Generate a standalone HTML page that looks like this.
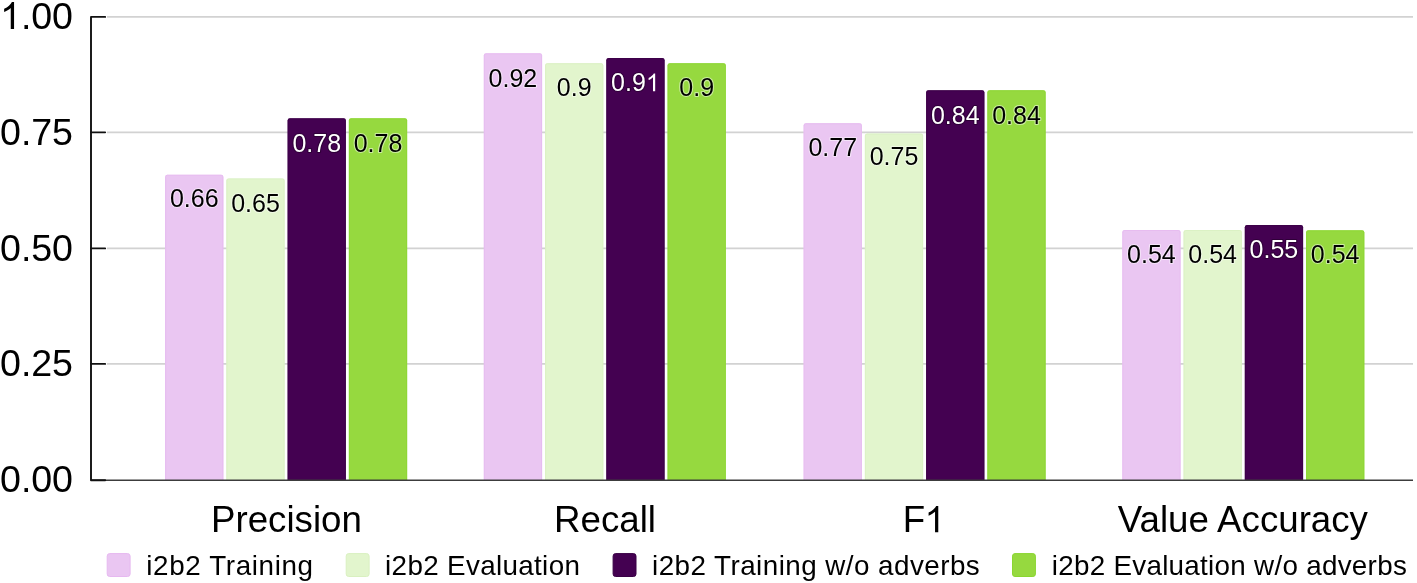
<!DOCTYPE html><html><head><meta charset="utf-8"><style>html,body{margin:0;padding:0;background:#fff;}body{width:1417px;height:583px;overflow:hidden;}svg{display:block;will-change:transform;font-family:"Liberation Sans",sans-serif;}</style></head><body>
<svg width="1417" height="583" viewBox="0 0 1417 583">
<line x1="107" y1="16.90" x2="1413" y2="16.90" stroke="#d2d2d2" stroke-width="1.7"/>
<line x1="107" y1="132.30" x2="1413" y2="132.30" stroke="#d2d2d2" stroke-width="1.7"/>
<line x1="107" y1="248.40" x2="1413" y2="248.40" stroke="#d2d2d2" stroke-width="1.7"/>
<line x1="107" y1="363.90" x2="1413" y2="363.90" stroke="#d2d2d2" stroke-width="1.7"/>
<path d="M165.10,480.00L165.10,176.90Q165.10,174.70 167.30,174.70L221.20,174.70Q223.40,174.70 223.40,176.90L223.40,480.00Z" fill="#eac6f2"/>
<path d="M165.60,480.00L165.60,176.90Q165.60,175.20 167.30,175.20L221.20,175.20Q222.90,175.20 222.90,176.90L222.90,480.00" fill="none" stroke="#e6b8f0" stroke-width="1" stroke-opacity="0.7"/>
<g stroke="#ffffff" stroke-opacity="0.5" stroke-width="2.2" paint-order="stroke" stroke-linejoin="round"><text x="194.25" y="207.12" font-size="25.0" text-anchor="middle" fill="#000">0.66</text></g>
<path d="M226.35,480.00L226.35,180.60Q226.35,178.40 228.55,178.40L282.45,178.40Q284.65,178.40 284.65,180.60L284.65,480.00Z" fill="#e2f5cd"/>
<path d="M226.85,480.00L226.85,180.60Q226.85,178.90 228.55,178.90L282.45,178.90Q284.15,178.90 284.15,180.60L284.15,480.00" fill="none" stroke="#d9f0c0" stroke-width="1" stroke-opacity="0.7"/>
<g stroke="#ffffff" stroke-opacity="0.5" stroke-width="2.2" paint-order="stroke" stroke-linejoin="round"><text x="255.50" y="211.75" font-size="25.0" text-anchor="middle" fill="#000">0.65</text></g>
<path d="M287.60,480.00L287.60,120.50Q287.60,118.30 289.80,118.30L343.70,118.30Q345.90,118.30 345.90,120.50L345.90,480.00Z" fill="#440151"/>
<path d="M288.10,480.00L288.10,120.50Q288.10,118.80 289.80,118.80L343.70,118.80Q345.40,118.80 345.40,120.50L345.40,480.00" fill="none" stroke="#3a0046" stroke-width="1" stroke-opacity="0.7"/>
<g stroke="#1a0020" stroke-opacity="0.5" stroke-width="2.2" paint-order="stroke" stroke-linejoin="round"><text x="316.75" y="151.56" font-size="25.0" text-anchor="middle" fill="#fff">0.78</text></g>
<path d="M348.85,480.00L348.85,120.50Q348.85,118.30 351.05,118.30L404.95,118.30Q407.15,118.30 407.15,120.50L407.15,480.00Z" fill="#96d93f"/>
<path d="M349.35,480.00L349.35,120.50Q349.35,118.80 351.05,118.80L404.95,118.80Q406.65,118.80 406.65,120.50L406.65,480.00" fill="none" stroke="#8ad630" stroke-width="1" stroke-opacity="0.7"/>
<g stroke="#ffffff" stroke-opacity="0.5" stroke-width="2.2" paint-order="stroke" stroke-linejoin="round"><text x="378.00" y="151.56" font-size="25.0" text-anchor="middle" fill="#000">0.78</text></g>
<path d="M483.80,480.00L483.80,55.50Q483.80,53.30 486.00,53.30L539.90,53.30Q542.10,53.30 542.10,55.50L542.10,480.00Z" fill="#eac6f2"/>
<path d="M484.30,480.00L484.30,55.50Q484.30,53.80 486.00,53.80L539.90,53.80Q541.60,53.80 541.60,55.50L541.60,480.00" fill="none" stroke="#e6b8f0" stroke-width="1" stroke-opacity="0.7"/>
<g stroke="#ffffff" stroke-opacity="0.5" stroke-width="2.2" paint-order="stroke" stroke-linejoin="round"><text x="512.95" y="86.74" font-size="25.0" text-anchor="middle" fill="#000">0.92</text></g>
<path d="M545.05,480.00L545.05,65.40Q545.05,63.20 547.25,63.20L601.15,63.20Q603.35,63.20 603.35,65.40L603.35,480.00Z" fill="#e2f5cd"/>
<path d="M545.55,480.00L545.55,65.40Q545.55,63.70 547.25,63.70L601.15,63.70Q602.85,63.70 602.85,65.40L602.85,480.00" fill="none" stroke="#d9f0c0" stroke-width="1" stroke-opacity="0.7"/>
<g stroke="#ffffff" stroke-opacity="0.5" stroke-width="2.2" paint-order="stroke" stroke-linejoin="round"><text x="574.20" y="96.00" font-size="25.0" text-anchor="middle" fill="#000">0.9</text></g>
<path d="M606.30,480.00L606.30,60.25Q606.30,58.05 608.50,58.05L662.40,58.05Q664.60,58.05 664.60,60.25L664.60,480.00Z" fill="#440151"/>
<path d="M606.80,480.00L606.80,60.25Q606.80,58.55 608.50,58.55L662.40,58.55Q664.10,58.55 664.10,60.25L664.10,480.00" fill="none" stroke="#3a0046" stroke-width="1" stroke-opacity="0.7"/>
<g stroke="#1a0020" stroke-opacity="0.5" stroke-width="2.2" paint-order="stroke" stroke-linejoin="round"><text x="611.12 625.03 631.97" y="91.37" font-size="25.0" fill="#fff">0.9</text><path transform="translate(645.87,91.37) scale(0.01221,-0.01221)" d="M763 0H583V1147Q518 1085 412.5 1023Q307 961 223 930V1104Q374 1175 487 1276Q600 1377 647 1472H763Z" fill="#fff"/></g>
<path d="M667.55,480.00L667.55,65.40Q667.55,63.20 669.75,63.20L723.65,63.20Q725.85,63.20 725.85,65.40L725.85,480.00Z" fill="#96d93f"/>
<path d="M668.05,480.00L668.05,65.40Q668.05,63.70 669.75,63.70L723.65,63.70Q725.35,63.70 725.35,65.40L725.35,480.00" fill="none" stroke="#8ad630" stroke-width="1" stroke-opacity="0.7"/>
<g stroke="#ffffff" stroke-opacity="0.5" stroke-width="2.2" paint-order="stroke" stroke-linejoin="round"><text x="696.70" y="96.00" font-size="25.0" text-anchor="middle" fill="#000">0.9</text></g>
<path d="M803.60,480.00L803.60,125.40Q803.60,123.20 805.80,123.20L859.70,123.20Q861.90,123.20 861.90,125.40L861.90,480.00Z" fill="#eac6f2"/>
<path d="M804.10,480.00L804.10,125.40Q804.10,123.70 805.80,123.70L859.70,123.70Q861.40,123.70 861.40,125.40L861.40,480.00" fill="none" stroke="#e6b8f0" stroke-width="1" stroke-opacity="0.7"/>
<g stroke="#ffffff" stroke-opacity="0.5" stroke-width="2.2" paint-order="stroke" stroke-linejoin="round"><text x="832.75" y="156.19" font-size="25.0" text-anchor="middle" fill="#000">0.77</text></g>
<path d="M864.85,480.00L864.85,135.80Q864.85,133.60 867.05,133.60L920.95,133.60Q923.15,133.60 923.15,135.80L923.15,480.00Z" fill="#e2f5cd"/>
<path d="M865.35,480.00L865.35,135.80Q865.35,134.10 867.05,134.10L920.95,134.10Q922.65,134.10 922.65,135.80L922.65,480.00" fill="none" stroke="#d9f0c0" stroke-width="1" stroke-opacity="0.7"/>
<g stroke="#ffffff" stroke-opacity="0.5" stroke-width="2.2" paint-order="stroke" stroke-linejoin="round"><text x="894.00" y="165.45" font-size="25.0" text-anchor="middle" fill="#000">0.75</text></g>
<path d="M926.10,480.00L926.10,92.40Q926.10,90.20 928.30,90.20L982.20,90.20Q984.40,90.20 984.40,92.40L984.40,480.00Z" fill="#440151"/>
<path d="M926.60,480.00L926.60,92.40Q926.60,90.70 928.30,90.70L982.20,90.70Q983.90,90.70 983.90,92.40L983.90,480.00" fill="none" stroke="#3a0046" stroke-width="1" stroke-opacity="0.7"/>
<g stroke="#1a0020" stroke-opacity="0.5" stroke-width="2.2" paint-order="stroke" stroke-linejoin="round"><text x="955.25" y="123.78" font-size="25.0" text-anchor="middle" fill="#fff">0.84</text></g>
<path d="M987.35,480.00L987.35,92.40Q987.35,90.20 989.55,90.20L1043.45,90.20Q1045.65,90.20 1045.65,92.40L1045.65,480.00Z" fill="#96d93f"/>
<path d="M987.85,480.00L987.85,92.40Q987.85,90.70 989.55,90.70L1043.45,90.70Q1045.15,90.70 1045.15,92.40L1045.15,480.00" fill="none" stroke="#8ad630" stroke-width="1" stroke-opacity="0.7"/>
<g stroke="#ffffff" stroke-opacity="0.5" stroke-width="2.2" paint-order="stroke" stroke-linejoin="round"><text x="1016.50" y="123.78" font-size="25.0" text-anchor="middle" fill="#000">0.84</text></g>
<path d="M1122.30,480.00L1122.30,232.20Q1122.30,230.00 1124.50,230.00L1178.40,230.00Q1180.60,230.00 1180.60,232.20L1180.60,480.00Z" fill="#eac6f2"/>
<path d="M1122.80,480.00L1122.80,232.20Q1122.80,230.50 1124.50,230.50L1178.40,230.50Q1180.10,230.50 1180.10,232.20L1180.10,480.00" fill="none" stroke="#e6b8f0" stroke-width="1" stroke-opacity="0.7"/>
<g stroke="#ffffff" stroke-opacity="0.5" stroke-width="2.2" paint-order="stroke" stroke-linejoin="round"><text x="1151.45" y="262.68" font-size="25.0" text-anchor="middle" fill="#000">0.54</text></g>
<path d="M1183.55,480.00L1183.55,232.20Q1183.55,230.00 1185.75,230.00L1239.65,230.00Q1241.85,230.00 1241.85,232.20L1241.85,480.00Z" fill="#e2f5cd"/>
<path d="M1184.05,480.00L1184.05,232.20Q1184.05,230.50 1185.75,230.50L1239.65,230.50Q1241.35,230.50 1241.35,232.20L1241.35,480.00" fill="none" stroke="#d9f0c0" stroke-width="1" stroke-opacity="0.7"/>
<g stroke="#ffffff" stroke-opacity="0.5" stroke-width="2.2" paint-order="stroke" stroke-linejoin="round"><text x="1212.70" y="262.68" font-size="25.0" text-anchor="middle" fill="#000">0.54</text></g>
<path d="M1244.80,480.00L1244.80,227.25Q1244.80,225.05 1247.00,225.05L1300.90,225.05Q1303.10,225.05 1303.10,227.25L1303.10,480.00Z" fill="#440151"/>
<path d="M1245.30,480.00L1245.30,227.25Q1245.30,225.55 1247.00,225.55L1300.90,225.55Q1302.60,225.55 1302.60,227.25L1302.60,480.00" fill="none" stroke="#3a0046" stroke-width="1" stroke-opacity="0.7"/>
<g stroke="#1a0020" stroke-opacity="0.5" stroke-width="2.2" paint-order="stroke" stroke-linejoin="round"><text x="1273.95" y="258.05" font-size="25.0" text-anchor="middle" fill="#fff">0.55</text></g>
<path d="M1306.05,480.00L1306.05,232.50Q1306.05,230.30 1308.25,230.30L1362.15,230.30Q1364.35,230.30 1364.35,232.50L1364.35,480.00Z" fill="#96d93f"/>
<path d="M1306.55,480.00L1306.55,232.50Q1306.55,230.80 1308.25,230.80L1362.15,230.80Q1363.85,230.80 1363.85,232.50L1363.85,480.00" fill="none" stroke="#8ad630" stroke-width="1" stroke-opacity="0.7"/>
<g stroke="#ffffff" stroke-opacity="0.5" stroke-width="2.2" paint-order="stroke" stroke-linejoin="round"><text x="1335.20" y="262.68" font-size="25.0" text-anchor="middle" fill="#000">0.54</text></g>
<line x1="91.0" y1="480.3" x2="1413" y2="480.3" stroke="#3c3c3c" stroke-width="1.6"/>
<path d="M105.2,16.90L91.0,16.90L91.0,480.30L105.2,480.30" stroke="#111" stroke-width="1.9" fill="none" stroke-linejoin="round" stroke-linecap="round"/>
<path transform="translate(0.05,29.10) scale(0.01836,-0.01836)" d="M763 0H583V1147Q518 1085 412.5 1023Q307 961 223 930V1104Q374 1175 487 1276Q600 1377 647 1472H763Z" fill="#000"/><text x="21.05 31.15 51.95" y="29.10" font-size="37.6" fill="#000">.00</text>
<line x1="91.0" y1="132.30" x2="105.2" y2="132.30" stroke="#111" stroke-width="1.8" stroke-linecap="round"/>
<text x="0.05 21.05 31.15 51.95" y="144.50" font-size="37.6" fill="#000">0.75</text>
<line x1="91.0" y1="248.40" x2="105.2" y2="248.40" stroke="#111" stroke-width="1.8" stroke-linecap="round"/>
<text x="0.05 21.05 31.15 51.95" y="260.60" font-size="37.6" fill="#000">0.50</text>
<line x1="91.0" y1="363.90" x2="105.2" y2="363.90" stroke="#111" stroke-width="1.8" stroke-linecap="round"/>
<text x="0.05 21.05 31.15 51.95" y="376.10" font-size="37.6" fill="#000">0.25</text>
<text x="0.05 21.05 31.15 51.95" y="492.20" font-size="37.6" fill="#000">0.00</text>
<text x="286.40" y="532.30" font-size="36.7" text-anchor="middle" fill="#000">Precision</text>
<text x="605.00" y="532.30" font-size="36.7" text-anchor="middle" fill="#000">Recall</text>
<text x="902.70" y="532.30" font-size="36.7" fill="#000">F</text><path transform="translate(924.60,532.30) scale(0.01792,-0.01792)" d="M763 0H583V1147Q518 1085 412.5 1023Q307 961 223 930V1104Q374 1175 487 1276Q600 1377 647 1472H763Z" fill="#000"/>
<text x="1242.90" y="532.30" font-size="36.7" text-anchor="middle" fill="#000">Value Accuracy</text>
<rect x="107.2" y="553.6" width="22.9" height="22.9" rx="2.5" fill="#eac6f2" stroke="#e6b8f0" stroke-width="1"/>
<text x="146.30" y="575.10" font-size="27.8" letter-spacing="0.633" fill="#000">i2b2 Training</text>
<rect x="346.2" y="553.6" width="22.9" height="22.9" rx="2.5" fill="#e2f5cd" stroke="#d9f0c0" stroke-width="1"/>
<text x="385.10" y="575.10" font-size="27.8" letter-spacing="0.336" fill="#000">i2b2 Evaluation</text>
<rect x="613.1" y="553.6" width="22.9" height="22.9" rx="2.5" fill="#440151" stroke="#3a0046" stroke-width="1"/>
<text x="652.00" y="575.10" font-size="27.8" letter-spacing="0.458" fill="#000">i2b2 Training w/o adverbs</text>
<rect x="1012.5" y="553.6" width="22.9" height="22.9" rx="2.5" fill="#96d93f" stroke="#8ad630" stroke-width="1"/>
<text x="1051.70" y="575.10" font-size="27.8" letter-spacing="0.285" fill="#000">i2b2 Evaluation w/o adverbs</text>
</svg></body></html>
